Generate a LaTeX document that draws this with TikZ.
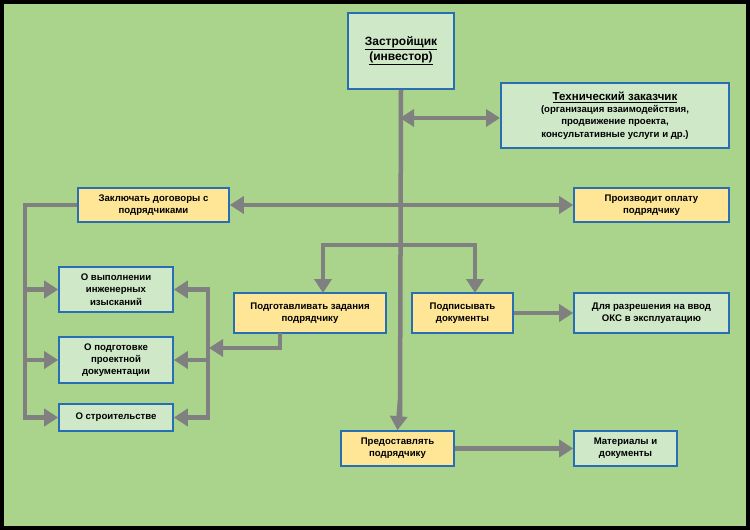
\documentclass[tikz,border=0pt]{standalone}
\usepackage{fontspec}
\setmainfont{Liberation Sans}
\usetikzlibrary{arrows.meta,calc}
\definecolor{bg}{RGB}{170,211,140}
\definecolor{gbox}{RGB}{206,232,200}
\definecolor{ybox}{RGB}{255,230,150}
\definecolor{bord}{RGB}{40,110,180}
\definecolor{ln}{RGB}{128,128,128}
\begin{document}
\begin{tikzpicture}[x=1pt,y=-1pt,
  box/.style={draw=bord,line width=1.6pt,inner sep=0pt,align=center,font=\bfseries\fontsize{9.6}{12.2}\selectfont},
  gb/.style={box,fill=gbox},
  yb/.style={box,fill=ybox},
  con/.style={draw=ln,line width=4.5pt},
  arr/.style={con,-{Triangle[length=14pt,width=17pt]}},
  darr/.style={con,{Triangle[length=14pt,width=17pt]}-{Triangle[length=14pt,width=17pt]}}]
\fill[black] (0,0) rectangle (750,530);
\fill[bg] (4,4) rectangle (746,526);
\node[gb,minimum width=106pt,minimum height=76pt,font=\bfseries\fontsize{12}{15}\selectfont] (z) at (401,51) {\underline{Застройщик}\\\underline{(инвестор)}};
\node[gb,minimum width=228pt,minimum height=65pt] (t) at (615,115.5) {{\fontsize{11.5}{14}\selectfont\underline{Технический заказчик}}\\(организация взаимодействия,\\продвижение проекта,\\консультативные услуги и др.)};
\node[yb,minimum width=151pt,minimum height=34pt] (zk) at (153.5,205) {Заключать договоры с\\подрядчиками};
\node[yb,minimum width=155pt,minimum height=34pt] (po) at (651.5,205) {Производит оплату\\подрядчику};
\node[yb,minimum width=152pt,minimum height=40pt] (pz) at (310,313) {Подготавливать задания\\подрядчику};
\node[yb,minimum width=101pt,minimum height=40pt] (pd) at (462.5,313) {Подписывать\\документы};
\node[gb,minimum width=155pt,minimum height=40pt] (dr) at (651.5,313) {Для разрешения на ввод\\ОКС в эксплуатацию};
\node[yb,minimum width=113pt,minimum height=35pt] (pr) at (397.5,448.5) {Предоставлять\\подрядчику};
\node[gb,minimum width=103pt,minimum height=35pt] (md) at (625.5,448.5) {Материалы и\\документы};
\node[gb,minimum width=114pt,minimum height=45pt] (o1) at (116,289.5) {О выполнении\\инженерных\\изысканий};
\node[gb,minimum width=114pt,minimum height=46pt] (o2) at (116,360) {О подготовке\\проектной\\документации};
\node[gb,minimum width=114pt,minimum height=27pt] (o3) at (116,417.5) {О строительстве};
\coordinate (tr) at (400,118);
\coordinate (tl) at (500,118);
\coordinate (lb) at (25,205);
\coordinate (pzb) at (280,333);
\draw[con] (z.south) -- (400,418);
\draw[arr] (400,400) -- (pr.north);
\draw[darr] (tr) -- (tl);
\draw[darr] (zk.east) -- (po.west);
\draw[con] (323,245) -- (475,245);
\draw[arr] (323,243) -- (323,293);
\draw[arr] (475,243) -- (475,293);
\draw[arr] (pd.east) -- (dr.west);
\draw[arr] (pr.east) -- (md.west);
\draw[con] (zk.west) -- (lb) -- (25,419.75);
\draw[arr] (23,289.5) -- (o1.west);
\draw[arr] (23,360) -- (o2.west);
\draw[arr] (23,417.5) -- (o3.west);
\draw[con] (208,287.25) -- (208,419.75);
\draw[arr] (210,289.5) -- (o1.east);
\draw[arr] (210,360) -- (o2.east);
\draw[arr] (210,417.5) -- (o3.east);
\draw[arr] (pzb) -- (280,348) -- (209,348);
\end{tikzpicture}
\end{document}
